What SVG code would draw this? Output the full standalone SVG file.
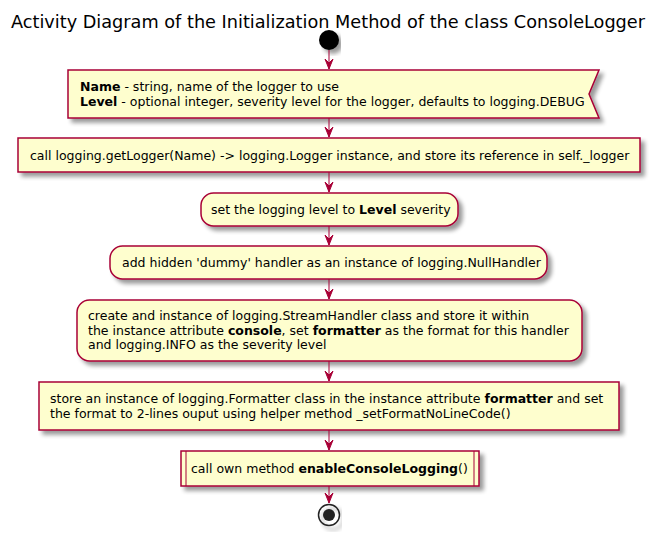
<svg xmlns="http://www.w3.org/2000/svg" width="657" height="534" viewBox="0 0 657 534">
<defs>
<filter id="sh" x="-10%" y="-20%" width="120%" height="150%">
<feGaussianBlur in="SourceAlpha" stdDeviation="2"/>
<feOffset dx="4" dy="4" result="b"/>
<feComponentTransfer><feFuncA type="linear" slope="0.4"/></feComponentTransfer>
<feMerge><feMergeNode/><feMergeNode in="SourceGraphic"/></feMerge>
</filter>
<marker id="ah" viewBox="0 0 12 10" markerWidth="12" markerHeight="10" refX="11" refY="5" orient="auto" markerUnits="userSpaceOnUse">
<path d="M1,1 L11,5 L1,9 L5,5 Z" fill="#A80036" stroke="#A80036" stroke-width="1"/>
</marker>
</defs>
<style>
.box{fill:#FEFECE;stroke:#A80036;stroke-width:1.5;}
.t{font-family:"DejaVu Sans",sans-serif;font-size:12.5px;fill:#000;}
.b{font-weight:bold;}
.c{stroke:#A80036;stroke-width:1;fill:none;}
</style>
<text x="328" y="28" text-anchor="middle" textLength="634" lengthAdjust="spacingAndGlyphs" style="font-family:'DejaVu Sans',sans-serif;font-size:17.5px;fill:#000">Activity Diagram of the Initialization Method of the class ConsoleLogger</text>

<g id="start"><circle cx="329" cy="40" r="10" fill="#000" filter="url(#sh)"/></g>

<g id="n1">
<polygon class="box" filter="url(#sh)" points="68,70 599,70 589,94 599,118 68,118"/>
<text class="t" x="80" y="91"><tspan class="b">Name</tspan> - string, name of the logger to use</text>
<text class="t" x="80" y="106"><tspan class="b">Level</tspan> - optional integer, severity level for the logger, defaults to logging.DEBUG</text>
</g>

<g id="n2">
<rect class="box" filter="url(#sh)" x="18" y="138" width="622" height="34"/>
<text class="t" x="30" y="160">call logging.getLogger(Name) -&gt; logging.Logger instance, and store its reference in self._logger</text>
</g>

<g id="n3">
<rect class="box" filter="url(#sh)" x="201" y="193" width="257" height="33" rx="12.5"/>
<text class="t" x="211" y="214">set the logging level to <tspan class="b">Level</tspan> severity</text>
</g>

<g id="n4">
<rect class="box" filter="url(#sh)" x="110" y="246" width="437" height="33" rx="12.5"/>
<text class="t" x="122" y="267">add hidden 'dummy' handler as an instance of logging.NullHandler</text>
</g>

<g id="n5">
<rect class="box" filter="url(#sh)" x="77" y="300" width="505" height="61" rx="12.5"/>
<text class="t" x="88" y="320">create and instance of logging.StreamHandler class and store it within</text>
<text class="t" x="88" y="335">the instance attribute <tspan class="b">console</tspan>, set <tspan class="b">formatter</tspan> as the format for this handler</text>
<text class="t" x="88" y="349">and logging.INFO as the severity level</text>
</g>

<g id="n6">
<rect class="box" filter="url(#sh)" x="39" y="382" width="580" height="48"/>
<text class="t" x="50" y="403">store an instance of logging.Formatter class in the instance attribute <tspan class="b">formatter</tspan> and set</text>
<text class="t" x="50" y="418">the format to 2-lines ouput using helper method _setFormatNoLineCode()</text>
</g>

<g id="n7">
<rect class="box" filter="url(#sh)" x="181" y="451" width="298" height="35"/>
<line class="c" x1="186" y1="451" x2="186" y2="486" stroke-width="1.5"/>
<line class="c" x1="474" y1="451" x2="474" y2="486" stroke-width="1.5"/>
<text class="t" x="191" y="473">call own method <tspan class="b">enableConsoleLogging</tspan>()</text>
</g>

<g id="end">
<circle cx="329" cy="515" r="10.5" fill="none" stroke="#222" stroke-width="1.5" filter="url(#sh)"/>
<circle cx="329" cy="515" r="6" fill="#222"/>
</g>

<g id="connectors">
<line class="c" x1="329" y1="50" x2="329" y2="69" marker-end="url(#ah)"/>
<line class="c" x1="329" y1="118" x2="329" y2="137" marker-end="url(#ah)"/>
<line class="c" x1="329" y1="172" x2="329" y2="192" marker-end="url(#ah)"/>
<line class="c" x1="329" y1="226" x2="329" y2="245" marker-end="url(#ah)"/>
<line class="c" x1="329" y1="279" x2="329" y2="299" marker-end="url(#ah)"/>
<line class="c" x1="329" y1="361" x2="329" y2="381" marker-end="url(#ah)"/>
<line class="c" x1="329" y1="430" x2="329" y2="450" marker-end="url(#ah)"/>
<line class="c" x1="329" y1="486" x2="329" y2="503" marker-end="url(#ah)"/>
</g>
</svg>
